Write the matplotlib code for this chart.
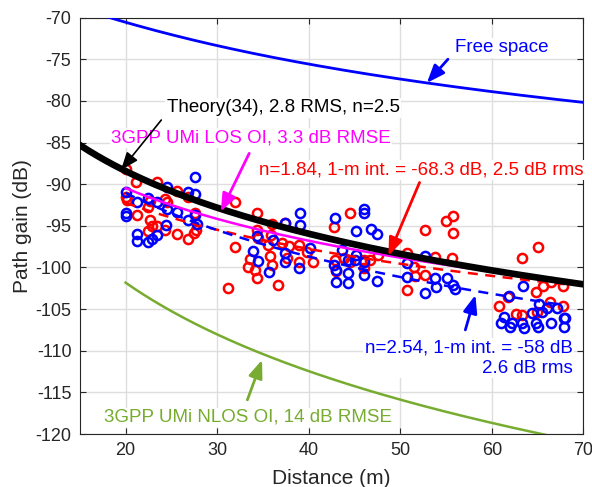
import numpy as np
import matplotlib
matplotlib.use("Agg")
import matplotlib.pyplot as plt

plt.rcParams['font.family'] = ['Liberation Sans', 'DejaVu Sans']
plt.rcParams['axes.unicode_minus'] = False

# measured path gain, two antenna settings (distance in m, gain in dB)
red_d = [20.0, 21.1, 23.4, 25.6, 20.0, 20.1, 22.7, 24.3, 24.5, 26.8, 22.5, 21.2, 27.6,
         22.7, 22.9, 23.4, 22.4, 24.3, 25.6, 26.8, 27.7, 27.5,
         31.9, 34.3, 36.0, 37.4, 34.3, 35.9, 34.5, 35.6, 37.1, 37.8, 38.9, 39.8, 40.5,
         33.6, 33.4, 34.1, 34.3, 36.6, 32.0, 37.6, 38.9, 35.8, 35.95, 31.2, 42.8, 42.9,
         43.0, 43.8, 44.5, 44.5, 46.0, 46.7, 46.0, 47.6,
         50.7, 51.5, 51.6, 52.7, 50.7, 52.7, 53.8, 55.0, 55.7, 55.7, 55.6,
         63.3, 65.0, 64.8, 65.6, 66.5, 67.8, 61.8, 60.8, 66.3, 67.8, 62.6, 63.3, 64.9]
red_pg = [-88.2, -89.7, -89.8, -90.8, -91.5, -91.9, -92.0, -91.8, -92.2, -91.5, -92.8, -93.7, -93.5,
          -94.3, -95.0, -95.0, -95.6, -95.5, -96.0, -96.6, -95.5, -95.9,
          -92.2, -93.5, -94.8, -94.7, -95.5, -96.1, -96.5, -97.3, -97.1, -97.4, -97.3, -98.1, -99.4,
          -99.0, -99.9, -100.3, -101.3, -102.1, -97.5, -98.9, -99.4, -98.6, -99.7, -102.5, -95.2, -99.1,
          -100.4, -98.9, -99.3, -93.5, -99.1, -99.1, -100.1, -98.5,
          -98.3, -99.9, -101.0, -100.9, -102.7, -95.5, -98.7, -94.4, -93.8, -95.9, -98.9,
          -98.9, -97.5, -102.9, -102.2, -101.8, -102.2, -103.6, -104.6, -104.2, -104.6, -105.6, -105.7, -105.4]

blue_d = [27.6, 20.0, 21.2, 20.0, 20.0, 22.4, 24.5, 26.8, 27.6, 23.4, 25.6, 24.5, 24.4,
          27.6, 26.8, 27.8, 21.2, 21.3, 22.5, 22.9, 23.4,
          39.05, 37.4, 39.05, 42.9, 34.3, 36.1, 33.9, 34.5, 37.4, 37.4, 38.9, 35.7, 42.8,
          43.0, 44.3, 46.0, 47.4, 45.05, 40.1, 46.0, 46.0, 45.2, 46.8, 47.5, 43.6, 44.3,
          45.2, 46.0, 44.3, 43.0,
          50.7, 50.7, 52.7, 53.8, 52.7, 55.1, 55.8, 56.0, 53.9,
          63.4, 61.9, 65.1, 66.0, 67.1, 68.0, 61.0, 62.2, 63.3, 64.8, 66.4, 67.9, 61.3,
          64.4, 65.5, 62.0, 63.5, 65.0, 67.9]
blue_pg = [-89.2, -90.9, -92.2, -93.5, -93.8, -91.7, -90.4, -90.9, -91.2, -92.1, -93.4, -93.0, -94.9,
           -93.7, -94.3, -94.8, -96.0, -96.8, -97.0, -96.6, -96.1,
           -93.5, -94.7, -94.9, -94.1, -96.2, -96.7, -98.0, -99.2, -98.3, -99.4, -100.1, -100.5, -99.7,
           -101.7, -101.9, -100.9, -101.6, -99.1, -97.7, -93.0, -93.5, -95.6, -95.4, -96.0, -97.9, -99.1,
           -98.5, -99.3, -100.7, -100.3,
           -101.1, -99.5, -98.6, -101.3, -103.1, -101.3, -102.1, -102.6, -102.3,
           -102.2, -103.4, -104.4, -104.9, -104.9, -106.1, -106.7, -106.7, -106.7, -106.7, -106.7, -106.1, -105.9,
           -105.5, -105.3, -107.2, -107.3, -107.2, -107.2]

# model parameters
fs_int, fs_height = -43.15, 12.3        # free space, 3-D distance
th_int, th_n = -55.9, 2.5               # theory (34)
los_int, los_n = -63.15, 2.1            # 3GPP UMi LOS
nlos_int, nlos_n = -55.9, 3.53          # 3GPP UMi NLOS
red_int, red_n = -68.3, 1.84
blue_int, blue_n = -58.0, 2.54

d_all = np.linspace(15, 70, 300)
d_fit = np.linspace(20, 68, 200)

fig = plt.figure(figsize=(5.92, 4.87), dpi=100)
ax = fig.add_axes([0.1348, 0.1088, 0.8508, 0.8551])

ax.plot(red_d, red_pg, 'o', ms=6.6, mfc='none', mec='red', mew=1.8, zorder=2)
ax.plot(blue_d, blue_pg, 'o', ms=6.6, mfc='none', mec='blue', mew=1.8, zorder=2)

fs = fs_int - 20 * np.log10(np.sqrt(d_all ** 2 + fs_height ** 2))
ax.plot(d_all, fs, color='blue', lw=2, zorder=3)
ax.plot(d_fit, los_int - 10 * los_n * np.log10(d_fit), color='magenta', lw=1.8, zorder=3)
ax.plot(d_fit, nlos_int - 10 * nlos_n * np.log10(d_fit), color='#77AC30', lw=1.8, zorder=3)
ax.plot(d_fit, red_int - 10 * red_n * np.log10(d_fit), color='red', lw=1.8,
        dashes=(4, 3), zorder=3)
ax.plot(d_fit, blue_int - 10 * blue_n * np.log10(d_fit), color='blue', lw=1.8,
        dashes=(4, 3), zorder=3)
ax.plot(d_all, th_int - 10 * th_n * np.log10(d_all), color='black', lw=4.8, zorder=4)

ax.set_xlim(15, 70)
ax.set_ylim(-120, -70)
ax.set_xticks([20, 30, 40, 50, 60, 70])
ax.set_yticks(np.arange(-120, -69, 5))
ax.tick_params(direction='in', top=True, right=True, length=4, width=0.8,
               labelsize=13, pad=6, colors='#262626')
ax.grid(True, color='#dedede', lw=1)
ax.set_axisbelow(True)
for sp in ax.spines.values():
    sp.set_color('#262626')
    sp.set_linewidth(0.8)

ax.set_xlabel('Distance (m)', fontsize=15, color='#262626')
ax.set_ylabel('Path gain (dB)', fontsize=15, color='#262626')
ax.xaxis.set_label_coords(0.5, -0.085)
ax.yaxis.set_label_coords(-0.095, 0.5)

box = dict(facecolor='white', edgecolor='none', pad=1)
arr = dict(arrowstyle='-|>,head_length=0.9,head_width=0.35', mutation_scale=12,
           shrinkA=0, shrinkB=0)

ax.text(56.0, -73.65, 'Free space', color='blue', fontsize=13.5, va='center', bbox=box, zorder=6)
ax.annotate('', xy=(52.9, -77.85), xytext=(55.2, -75.0),
            arrowprops=dict(arr, color='blue', lw=2), zorder=6)

ax.text(24.5, -80.85, 'Theory(34), 2.8 RMS, n=2.5', color='black', fontsize=13.5,
        va='center', bbox=box, zorder=6)
ax.text(18.4, -84.45, '3GPP UMi LOS OI, 3.3 dB RMSE', color='magenta', fontsize=13.5,
        va='center', bbox=box, zorder=6)
ax.annotate('', xy=(19.5, -88.3), xytext=(23.9, -82.3),
            arrowprops=dict(arr, color='black', lw=1.2), zorder=7)
ax.annotate('', xy=(30.4, -93.3), xytext=(33.5, -86.3),
            arrowprops=dict(arr, color='magenta', lw=2), zorder=7)

ax.text(34.6, -88.3, 'n=1.84, 1-m int. = -68.3 dB, 2.5 dB rms', color='red', fontsize=13.5,
        va='center', bbox=box, zorder=6)
ax.annotate('', xy=(48.7, -98.6), xytext=(52.1, -89.8),
            arrowprops=dict(arr, color='red', lw=2), zorder=7)

ax.text(68.8, -110.9, 'n=2.54, 1-m int. = -58 dB\n2.6 dB rms', color='blue', fontsize=13.5,
        ha='right', va='center', multialignment='right', linespacing=1.25,
        bbox=box, zorder=6)
ax.annotate('', xy=(58.2, -103.3), xytext=(57.1, -107.5),
            arrowprops=dict(arr, color='blue', lw=2), zorder=7)

ax.text(17.65, -118.0, '3GPP UMi NLOS OI, 14 dB RMSE', color='#77AC30', fontsize=13.5,
        va='center', bbox=box, zorder=6)
ax.annotate('', xy=(34.9, -111.1), xytext=(33.3, -115.9),
            arrowprops=dict(arr, color='#77AC30', lw=2), zorder=7)

fig.savefig('out.png', dpi=100)
